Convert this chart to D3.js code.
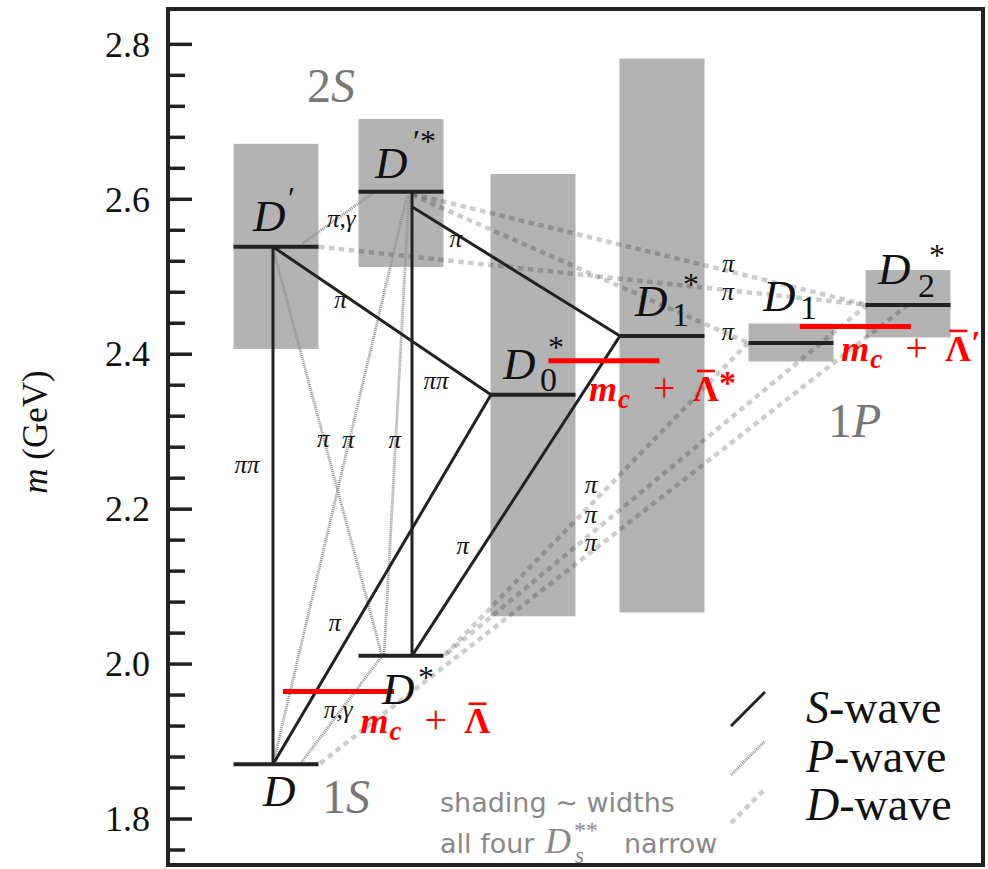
<!DOCTYPE html>
<html>
<head>
<meta charset="utf-8">
<script src="https://cdn.jsdelivr.net/npm/d3@7"></script>
<style>
  body { margin: 0; background: #fff; }
  svg { display: block; }
  .serif { font-family: "Liberation Serif", "DejaVu Serif", serif; }
  .sans { font-family: "DejaVu Sans", sans-serif; }
</style>
</head>
<body>
<svg id="chart" width="988" height="869"></svg>
<script>
// ---- Charm meson levels (masses in GeV) ----
const levelNames  = ["D", "D*", "D'", "D'*", "D0*", "D1*", "D1", "D2*"];
const levelColumn = [0, 1, 0, 1, 2, 3, 4, 5];
const levelMass   = [1.870, 2.010, 2.538, 2.609, 2.347, 2.423, 2.414, 2.463];
// mass ± width band (null = narrow, no band)
const bandLow  = [null, null, 2.406, 2.512, 2.061, 2.066, 2.390, 2.421];
const bandHigh = [null, null, 2.671, 2.703, 2.632, 2.781, 2.439, 2.508];
// printed pieces of each level name
const levelSub = ["", "", "", "", "0", "1", "1", "2"];
const levelSup = ["", "*", "\u2032", "\u2032*", "*", "*", "", "*"];

// ---- heavy-quark limit m_c + Λ̄ ----
const hqMass   = [1.964, 2.391, 2.435];
const hqSuffix = ["", "*", "\u2032"];

// ---- decays: parent → daughter, partial wave, emitted particle ----
const decayFrom  = ["D'", "D'", "D'*", "D'*", "D0*", "D1*", "D'*", "D'", "D'*", "D'*", "D*", "D'*", "D'", "D'*", "D2*", "D2*", "D1"];
const decayTo    = ["D", "D0*", "D*", "D1*", "D", "D*", "D'", "D*", "D", "D*", "D", "D2*", "D2*", "D1", "D", "D*", "D*"];
const decayWave  = ["S", "S", "S", "S", "S", "S", "P", "P", "P", "P", "P", "D", "D", "D", "D", "D", "D"];
const decayLabel = ["ππ", "π", "ππ", "π", "π", "π", "π,γ", "π", "π", "π", "π,γ", "π", "π", "π", "π", "π", "π"];

// ---- axis ticks ----
const majorTicks = [1.8, 2.0, 2.2, 2.4, 2.6, 2.8];
const minorTicks = [1.76, 1.84, 1.88, 1.92, 1.96, 2.04, 2.08, 2.12, 2.16, 2.24, 2.28, 2.32, 2.36,
                    2.44, 2.48, 2.52, 2.56, 2.64, 2.68, 2.72, 2.76];

// ================= drawing =================
const svg = d3.select("#chart");
const frame = { left: 168, right: 983, top: 9, bottom: 865 };

const y = d3.scaleLinear().domain([1.74, 2.845]).range([frame.bottom, frame.top]);
const x = d3.scaleLinear().domain([0, 1, 2, 3, 4, 5]).range([276, 401, 533, 662, 791, 908]);
const halfW = 42.5;          // half length of a level bar
const hqColumn = [0.5, 2.55, 4.55];
const hqHalf = 55.5;

const waveStyle = {
  S: { stroke: "#222", width: 3, dash: null, opacity: 1 },
  P: { stroke: "#8e8e8e", width: 2.8, dash: "1 1", opacity: 1 },
  D: { stroke: "#000", width: 4.5, dash: "5.5 4.5", opacity: 0.2 }
};

// bar-end offsets (px) and label placement for each decay line
const decayLayout = [
  { a: [-3, 0],  b: [-3, 0],  t: 0.424, dx: -26, dy: 0 },
  { a: [-3, 0],  b: [-42, 0], t: 0.31,  dx: 0,   dy: 8 },
  { a: [11, 0],  b: [11, 0],  t: 0.41,  dx: 24,  dy: 0 },
  { a: [11, 15], b: [-42, 0], t: 0.21,  dx: 0,   dy: 6 },
  { a: [-42, 0], b: [-3, 0],  t: 0.62,  dx: -21, dy: 0 },
  { a: [-42, 0], b: [11, 0],  t: 0.66,  dx: -20, dy: 0 },
  { a: [-29, 2], b: [26, -3], t: 0.44,  dx: 0,   dy: 4 },
  { a: [-3, 2],  b: [-19, 0], t: 0.47,  dx: -1,  dy: 0 },
  { a: [6, 4],   b: [-3, 0],  t: 0.431, dx: -1,  dy: 0 },
  { a: [8, 4],   b: [-17, 0], t: 0.533, dx: -1,  dy: 0 },
  { a: [-19, 0], b: [24, 0],  t: 0.51,  dx: -2,  dy: 0 },
  { a: [11, 2],  b: [-41, 0], t: 0.695, dx: 0,   dy: -6 },
  { a: [43, 0],  b: [-41, 0], t: 0.746, dx: 0,   dy: 3 },
  { a: [11, 3],  b: [-43, 0], t: 0.94,  dx: 0,   dy: -1 },
  { a: [0, 0],   b: [43, 0],  t: 0.52,  dx: -11, dy: 0 },
  { a: [-41, 0], b: [43, 0],  t: 0.601, dx: -22, dy: 0 },
  { a: [-43, 0], b: [43, 0],  t: 0.457, dx: -18, dy: 0 }
];

// name placement relative to the bar centre
const nameLayout = {
  "D":   { dx: -13, dy: 42 },
  "D*":  { dx: -19, dy: 48,  sup: [36, -16] },
  "D'":  { dx: -23, dy: -16, sup: [35, -22] },
  "D'*": { dx: -26, dy: -14, sup: [38, -26] },
  "D0*": { dx: -30, dy: -16, sub: [37, 12], sup: [45, -21] },
  "D1*": { dx: -27, dy: -20, sub: [37, 10], sup: [48, -21] },
  "D1":  { dx: -28, dy: -32, sub: [37, 8] },
  "D2*": { dx: -30, dy: -21, sub: [40, 13], sup: [51, -18] }
};

const li = name => levelNames.indexOf(name);
const barPoint = (name, off) => {
  const i = li(name);
  return [x(levelColumn[i]) + off[0], y(levelMass[i]) + off[1]];
};

// width bands
const bands = levelNames.map((n, i) => ({ n, i })).filter(d => bandLow[d.i] !== null);
svg.append("g").selectAll("rect").data(bands).join("rect")
  .attr("x", d => x(levelColumn[d.i]) - halfW)
  .attr("width", 2 * halfW)
  .attr("y", d => y(bandHigh[d.i]))
  .attr("height", d => y(bandLow[d.i]) - y(bandHigh[d.i]))
  .attr("fill", "#b3b3b3");

// decay lines, D-wave below P-wave below S-wave
const decays = decayFrom.map((f, k) => {
  const L = decayLayout[k];
  const p0 = barPoint(f, L.a), p1 = barPoint(decayTo[k], L.b);
  return { k, wave: decayWave[k], label: decayLabel[k], p0, p1, L };
});
const order = { D: 0, P: 1, S: 2 };
svg.append("g").selectAll("line")
  .data(decays.slice().sort((a, b) => order[a.wave] - order[b.wave])).join("line")
  .attr("x1", d => d.p0[0]).attr("y1", d => d.p0[1])
  .attr("x2", d => d.p1[0]).attr("y2", d => d.p1[1])
  .attr("stroke", d => waveStyle[d.wave].stroke)
  .attr("stroke-width", d => waveStyle[d.wave].width)
  .attr("stroke-dasharray", d => waveStyle[d.wave].dash)
  .attr("stroke-opacity", d => waveStyle[d.wave].opacity);

// level bars
svg.append("g").selectAll("line").data(levelNames).join("line")
  .attr("x1", (d, i) => x(levelColumn[i]) - halfW)
  .attr("x2", (d, i) => x(levelColumn[i]) + halfW)
  .attr("y1", (d, i) => y(levelMass[i]))
  .attr("y2", (d, i) => y(levelMass[i]))
  .attr("stroke", "#222").attr("stroke-width", 4);

// heavy-quark limit bars
svg.append("g").selectAll("line").data(hqMass).join("line")
  .attr("x1", (d, i) => x(hqColumn[i]) - hqHalf)
  .attr("x2", (d, i) => x(hqColumn[i]) + hqHalf)
  .attr("y1", d => y(d)).attr("y2", d => y(d))
  .attr("stroke", "#ff0000").attr("stroke-width", 5);

// decay labels
svg.append("g").attr("class", "serif").selectAll("text").data(decays).join("text")
  .attr("x", d => d.p0[0] + (d.p1[0] - d.p0[0]) * d.L.t + d.L.dx)
  .attr("y", d => d.p0[1] + (d.p1[1] - d.p0[1]) * d.L.t + d.L.dy + 7)
  .attr("text-anchor", "middle")
  .style("font-style", "italic")
  .style("font-size", "25px").attr("fill", "#111")
  .text(d => d.label);

// level names
const gNames = svg.append("g").attr("class", "serif").attr("fill", "#111");
levelNames.forEach((n, i) => {
  const L = nameLayout[n];
  const x0 = x(levelColumn[i]) + L.dx, b = y(levelMass[i]) + L.dy;
  gNames.append("text").attr("x", x0).attr("y", b)
    .style("font-size", "45px").style("font-style", "italic").text("D");
  if (levelSub[i]) gNames.append("text").attr("x", x0 + L.sub[0]).attr("y", b + L.sub[1])
    .style("font-size", "34px").text(levelSub[i]);
  if (levelSup[i]) gNames.append("text").attr("x", x0 + L.sup[0]).attr("y", b + L.sup[1])
    .style("font-size", "32px").text(levelSup[i]);
});

// m_c + Λ̄ labels
const hqLabelOff = [[22, 42], [-15, 40], [-14, 34]];
hqMass.forEach((m, i) => {
  const x0 = x(hqColumn[i]) + hqLabelOff[i][0], b = y(m) + hqLabelOff[i][1];
  const g = svg.append("g").attr("class", "serif").attr("fill", "#ff0000");
  g.append("text").attr("x", x0).attr("y", b).style("font-size", "36px")
    .style("font-weight", "bold").style("font-style", "italic").text("m");
  g.append("text").attr("x", x0 + 29).attr("y", b + 7).style("font-size", "27px")
    .style("font-weight", "bold").style("font-style", "italic").text("c");
  g.append("text").attr("x", x0 + 64).attr("y", b).style("font-size", "40px").text("+");
  g.append("text").attr("x", x0 + 104).attr("y", b).style("font-size", "36px")
    .style("font-weight", "bold").text("\u039B");
  g.append("rect").attr("x", x0 + 108).attr("y", b - 31).attr("width", 18).attr("height", 2.6);
  if (hqSuffix[i]) g.append("text").attr("x", x0 + 130).attr("y", b - 7).style("font-size", "34px")
    .style("font-weight", "bold").text(hqSuffix[i]);
});

// multiplet tags
const tag = (tx, ty, num, letter) => {
  const t = svg.append("text").attr("class", "serif").attr("x", tx).attr("y", ty)
    .style("font-size", "48px").attr("fill", "#777");
  t.append("tspan").text(num);
  t.append("tspan").style("font-style", "italic").text(letter);
};
tag(307, 102, "2", "S");
tag(322, 813, "1", "S");
tag(828, 437, "1", "P");

// notes
const note = svg.append("g").attr("fill", "#888");
note.append("text").attr("class", "sans").attr("x", 440).attr("y", 812).style("font-size", "27px")
  .text("shading \u223C widths");
note.append("text").attr("class", "sans").attr("x", 440).attr("y", 853).style("font-size", "27px")
  .text("all four");
note.append("text").attr("class", "serif").attr("x", 545).attr("y", 853).style("font-size", "36px")
  .style("font-style", "italic").text("D");
note.append("text").attr("class", "serif").attr("x", 575).attr("y", 863).style("font-size", "23px")
  .style("font-style", "italic").text("s");
note.append("text").attr("class", "serif").attr("x", 574).attr("y", 838).style("font-size", "24px")
  .text("**");
note.append("text").attr("class", "sans").attr("x", 624).attr("y", 853).style("font-size", "27px")
  .text("narrow");

// legend
const legendWaves = ["S", "P", "D"];
const legendY = [726, 775, 823];
legendWaves.forEach((w, i) => {
  const s = waveStyle[w];
  svg.append("line").attr("x1", 731).attr("y1", legendY[i]).attr("x2", 765).attr("y2", legendY[i] - 34)
    .attr("stroke", s.stroke).attr("stroke-width", s.width)
    .attr("stroke-dasharray", s.dash).attr("stroke-opacity", s.opacity);
  const t = svg.append("text").attr("class", "serif").attr("x", 806).attr("y", legendY[i] - 3)
    .style("font-size", "46px").attr("fill", "#111");
  t.append("tspan").style("font-style", "italic").text(w);
  t.append("tspan").text("-wave");
});

// axis
const gAxis = svg.append("g").attr("transform", `translate(${frame.left},0)`);
gAxis.call(d3.axisLeft(y).tickValues(majorTicks).tickFormat(d3.format(".1f"))
  .tickSizeInner(-24).tickSizeOuter(0).tickPadding(18));
gAxis.append("g").call(d3.axisLeft(y).tickValues(minorTicks).tickFormat("")
  .tickSizeInner(-17).tickSizeOuter(0));
gAxis.selectAll(".domain").remove();
gAxis.selectAll(".tick line").attr("stroke", "#222").attr("stroke-width", 3.5);
gAxis.selectAll(".tick text").attr("class", "serif").attr("font-family", null)
  .style("font-size", "36px").attr("fill", "#111").attr("dy", "0.34em");

// frame
svg.append("rect").attr("x", frame.left).attr("y", frame.top)
  .attr("width", frame.right - frame.left).attr("height", frame.bottom - frame.top)
  .attr("fill", "none").attr("stroke", "#222").attr("stroke-width", 4);

// y title
const yt = svg.append("text").attr("class", "serif").attr("transform", "translate(47,432) rotate(-90)")
  .attr("text-anchor", "middle").style("font-size", "35px").attr("fill", "#111");
yt.append("tspan").style("font-style", "italic").text("m");
yt.append("tspan").text(" (GeV)");
</script>
</body>
</html>
